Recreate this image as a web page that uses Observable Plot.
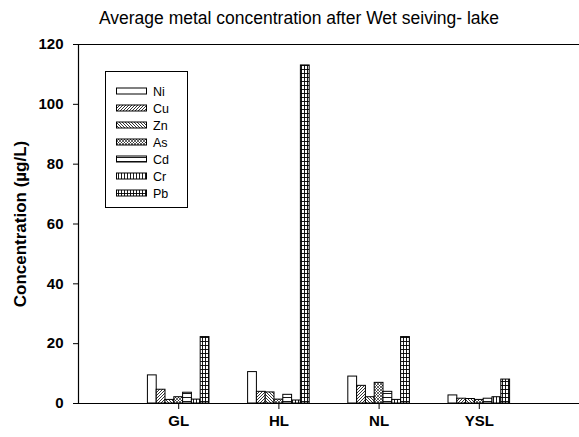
<!DOCTYPE html>
<html>
<head>
<meta charset="utf-8">
<script src="https://cdn.jsdelivr.net/npm/d3@7"></script>
<script src="https://cdn.jsdelivr.net/npm/@observablehq/plot@0.6"></script>
<style>
  html, body { margin: 0; padding: 0; background: #fff; }
  #chart { position: relative; width: 579px; height: 437px; }
</style>
</head>
<body>
<div id="chart"></div>
<script>
const groups = ["GL", "HL", "NL", "YSL"];
const metals = ["Ni", "Cu", "Zn", "As", "Cd", "Cr", "Pb"];
const Ni = [9.4, 10.5, 9.0, 2.7];
const Cu = [4.6, 3.9, 5.9, 1.6];
const Zn = [1.2, 3.7, 2.1, 1.5];
const As = [2.1, 1.3, 6.9, 1.2];
const Cd = [3.6, 2.9, 3.9, 1.6];
const Cr = [1.3, 1.0, 1.2, 2.1];
const Pb = [22.2, 113.0, 22.2, 8.0];
const yTicks = [0, 20, 40, 60, 80, 100, 120];
const titleText = "Average metal concentration after Wet seiving- lake";
const yLabel = "Concentration (µg/L)";

const series = {Ni, Cu, Zn, As, Cd, Cr, Pb};
const table = [];
groups.forEach((g, gi) => metals.forEach((m, mi) => {
  table.push({group: g, gi, metal: m, mi, value: series[m][gi]});
}));

const barW = 0.0878; // bar width in x units (group spacing = 1)
const x1 = d => d.gi + 1 + (d.mi - 3.5) * barW;
const x2 = d => x1(d) + barW;

const fillFor = m => m === "Ni" ? "white" : `url(#pat-${m})`;

const svg = Plot.plot({
  width: 579,
  height: 437,
  marginLeft: 78,
  marginRight: 0,
  marginTop: 44,
  marginBottom: 34,
  style: {fontFamily: "'Liberation Sans', Arial, sans-serif", fontSize: "15px", fontWeight: "bold", color: "#000", background: "#fff"},
  x: {domain: [0, 5], ticks: [1, 2, 3, 4], tickFormat: v => groups[v - 1], tickSize: 6, tickPadding: 6, label: null},
  y: {domain: [0, 120], ticks: yTicks, tickSize: 5, tickPadding: 10, label: null},
  marks: [
    ...metals.map(m => Plot.rectY(table.filter(d => d.metal === m), {
      x1, x2, y1: 0, y2: "value",
      fill: fillFor(m), stroke: "black", strokeWidth: 1
    })),
    Plot.ruleX([0], {stroke: "black", strokeWidth: 1.2}),
    Plot.ruleY([0], {stroke: "black", strokeWidth: 1.2}),
    Plot.ruleY([120], {stroke: "black", strokeWidth: 1.2})
  ]
});

const s = d3.select(svg);
const defs = s.insert("defs", ":first-child");
function pat(id, w, h, d, sw) {
  const p = defs.append("pattern").attr("id", id).attr("patternUnits", "userSpaceOnUse")
    .attr("width", w).attr("height", h);
  p.append("rect").attr("width", w).attr("height", h).attr("fill", "white");
  p.append("path").attr("d", d).attr("stroke", "black").attr("stroke-width", sw).attr("fill", "none");
}
pat("pat-Cu", 3, 3, "M0,3 L3,0 M-1,1 L1,-1 M2,4 L4,2", 0.8);
pat("pat-Zn", 3, 3, "M0,0 L3,3 M-1,2 L1,4 M2,-1 L4,1", 0.8);
pat("pat-As", 3, 3, "M0,3 L3,0 M-1,1 L1,-1 M2,4 L4,2 M0,0 L3,3 M-1,2 L1,4 M2,-1 L4,1", 0.6);
pat("pat-Cd", 4, 4, "M0,1.5 H4", 0.9);
pat("pat-Cr", 3, 4, "M1.5,0 V4", 0.9);
pat("pat-Pb", 3, 4, "M1.5,0 V4 M0,1.5 H3", 0.9);

// title
s.append("text").attr("x", 299).attr("y", 24).attr("text-anchor", "middle")
  .style("font-size", "17.5px").style("font-weight", "normal").text(titleText);
// y label
s.append("text").attr("transform", "translate(26,224) rotate(-90)").attr("text-anchor", "middle")
  .style("font-size", "17px").style("font-weight", "bold").text(yLabel);

// legend
const lg = s.append("g");
lg.append("rect").attr("x", 105.5).attr("y", 71.5).attr("width", 82).attr("height", 136)
  .attr("fill", "white").attr("stroke", "black").attr("stroke-width", 1);
metals.forEach((m, i) => {
  const cy = 91 + 17 * i;
  lg.append("rect").attr("x", 116.5).attr("y", cy - 3).attr("width", 30).attr("height", 6)
    .attr("fill", fillFor(m)).attr("stroke", "black").attr("stroke-width", 1);
  lg.append("text").attr("x", 153).attr("y", cy + 4.5).attr("text-anchor", "start")
    .style("font-size", "12.5px").style("font-weight", "normal").text(m);
});

document.getElementById("chart").appendChild(svg);
</script>
</body>
</html>
